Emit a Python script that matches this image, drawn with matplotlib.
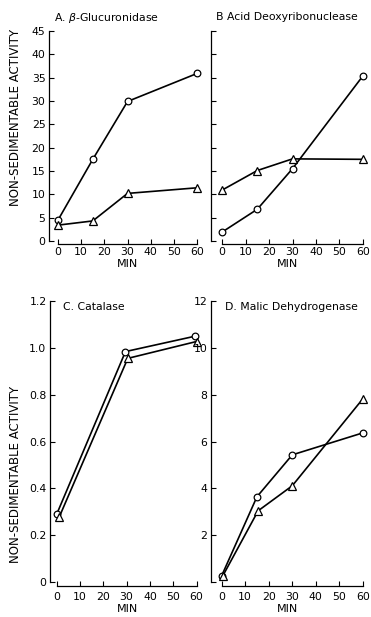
import numpy as np
import matplotlib.pyplot as plt

# A. beta-Glucuronidase
a_min = [0, 15, 30, 60]
a_circle = [4.5, 17.5, 29.9, 35.9]
a_triangle = [3.4, 4.3, 10.2, 11.4]

# B. Acid Deoxyribonuclease
b_min = [0, 15, 30, 60]
b_circle = [1.9, 6.8, 15.5, 35.4]
b_triangle = [10.9, 15.1, 17.6, 17.5]

# C. Catalase
c_min_circle = [0, 29.5, 59.5]
c_circle = [0.29, 0.984, 1.05]
c_min_triangle = [1, 30.5, 60]
c_triangle = [0.276, 0.955, 1.027]

# D. Malic Dehydrogenase
d_min_circle = [0, 15, 30, 60]
d_circle = [0.26, 3.64, 5.43, 6.37]
d_min_triangle = [0.5, 15.5, 30, 60]
d_triangle = [0.26, 3.04, 4.11, 7.83]

x_ticks = [0, 10, 20, 30, 40, 50, 60]

W, H = 371, 617
fig = plt.figure(figsize=(W / 100, H / 100), dpi=100)
plt.rcParams['font.family'] = ['DejaVu Sans']


def px_axes(x0, x1, y_top, y_bot):
    # axes rectangle from pixel coordinates (origin top-left)
    return fig.add_axes([x0 / W, (H - y_bot) / H, (x1 - x0) / W, (y_bot - y_top) / H])


def style(ax, ymax, yticks, ylabels, offset, xpad):
    for s in ('top', 'right'):
        ax.spines[s].set_visible(False)
    ax.spines['bottom'].set_position(('outward', offset))
    ax.spines['bottom'].set_bounds(0, 60)
    ax.spines['left'].set_bounds(0, ymax)
    for s in ('bottom', 'left'):
        ax.spines[s].set_linewidth(0.9)
    ax.set_xticks(x_ticks)
    ax.set_yticks(yticks)
    ax.set_yticklabels(ylabels)
    ax.tick_params(direction='in', length=3.5, width=0.8, labelsize=7.8)
    ax.tick_params(axis='x', pad=xpad)
    ax.tick_params(axis='y', pad=2.5)
    ax.patch.set_alpha(0)


def draw(ax, xc, yc, xt, yt):
    kw = dict(color='black', lw=1.2, mfc='white', mec='black', mew=0.9)
    ax.plot(xc, yc, marker='o', ms=4.8, **kw)
    ax.plot(xt, yt, marker='^', ms=5.2, **kw)


ylab = 'NON-SEDIMENTABLE ACTIVITY'
title_fs = 7.8

# panel A
ax = px_axes(49, 200.5, 31, 241)
draw(ax, a_min, a_circle, a_min, a_triangle)
ax.set_xlim(-3.9, 61.5)
ax.set_ylim(0, 45)
style(ax, 45, np.arange(0, 46, 5), [str(v) for v in range(0, 46, 5)], 1.8, 2.5)
fig.text(54 / W, 1 - 18 / H, r'A. $\beta$-Glucuronidase', fontsize=title_fs, va='center', ha='left')

# panel B
ax = px_axes(211, 366.5, 31, 241)
draw(ax, b_min, b_circle, b_min, b_triangle)
ax.set_xlim(-4.7, 61.5)
ax.set_ylim(0, 45)
style(ax, 45, np.arange(0, 46, 5), [''] * 10, 1.8, 2.5)
fig.text(216 / W, 1 - 17 / H, 'B Acid Deoxyribonuclease', fontsize=title_fs, va='center', ha='left')

# panel C
ax = px_axes(50, 200, 301, 582)
draw(ax, c_min_circle, c_circle, c_min_triangle, c_triangle)
ax.set_xlim(-2.9, 61.5)
ax.set_ylim(0, 1.2)
style(ax, 1.2, np.arange(0, 1.21, 0.2), ['0', '0.2', '0.4', '0.6', '0.8', '1.0', '1.2'], 3, 4)
fig.text(63 / W, 1 - 307 / H, 'C. Catalase', fontsize=title_fs, va='center', ha='left')

# panel D
ax = px_axes(211, 366.5, 301, 582)
draw(ax, d_min_circle, d_circle, d_min_triangle, d_triangle)
ax.set_xlim(-4.5, 61.5)
ax.set_ylim(0, 12)
style(ax, 12, np.arange(0, 13, 2), ['', '2', '4', '6', '8', '10', '12'], 3, 4)
fig.text(225 / W, 1 - 307 / H, 'D. Malic Dehydrogenase', fontsize=title_fs, va='center', ha='left')

# shared labels
for xc, yc in [(128, 264), (287, 264), (128, 609), (287, 609)]:
    fig.text(xc / W, 1 - yc / H, 'MIN', fontsize=8, ha='center', va='center')
for yc in (117, 474):
    fig.text(16 / W, 1 - yc / H, ylab, fontsize=8.5, rotation=90, ha='center', va='center')

fig.savefig('out.png', dpi=100)
